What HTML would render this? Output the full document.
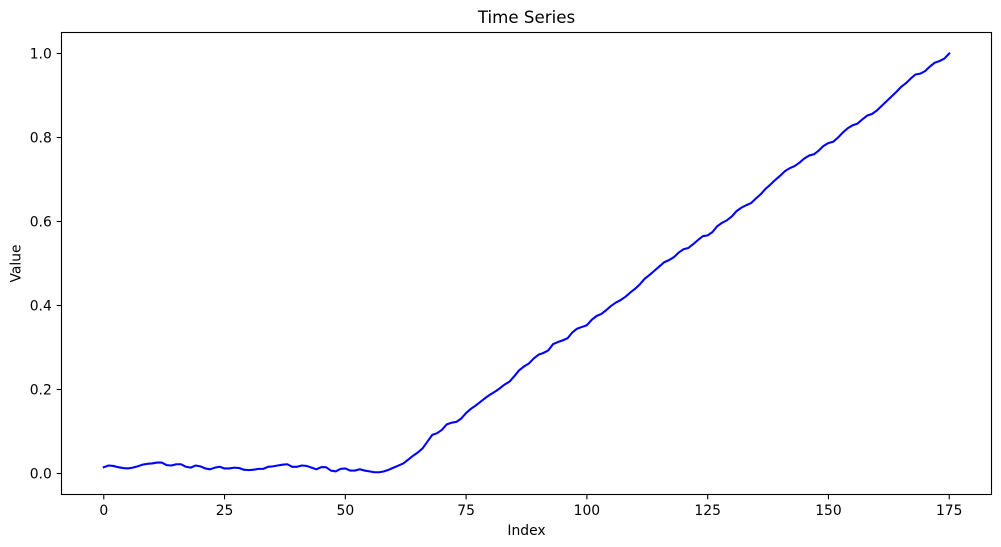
<!DOCTYPE html>
<html>
<head>
<meta charset="utf-8">
<title>Time Series</title>
<style>
html,body{margin:0;padding:0;background:#fff;width:1001px;height:547px;overflow:hidden}
svg{display:block}
text{font-family:"DejaVu Sans","Liberation Sans",sans-serif;fill:#000}
</style>
</head>
<body>
<svg id="chart" width="1001" height="547" viewBox="0 0 1001 547" xmlns="http://www.w3.org/2000/svg">
  <rect x="0" y="0" width="1001" height="547" fill="#fff"/>
  <text x="526.5" y="23" font-size="16.67" text-anchor="middle">Time Series</text>
  <text x="526.5" y="535" font-size="13.89" text-anchor="middle">Index</text>
  <text x="0" y="0" font-size="13.89" text-anchor="middle" transform="translate(20.5 263.5) rotate(-90)">Value</text>
  <g id="x-ticks"></g>
  <g id="y-ticks"></g>
  <path id="series-line" fill="none" stroke="#0000ff" stroke-width="2.08" stroke-linejoin="round" stroke-linecap="square"></path>
  <rect x="61.5" y="32.5" width="930" height="462" fill="none" stroke="#000" stroke-width="1.11"/>
</svg>
<script>
const seriesValues = [
0.015,0.019,0.018,0.015,0.013,0.012,0.014,0.017,0.021,0.023,
0.024,0.026,0.026,0.020,0.019,0.022,0.022,0.016,0.014,0.019,
0.017,0.012,0.010,0.014,0.016,0.012,0.012,0.014,0.013,0.009,
0.008,0.009,0.011,0.011,0.016,0.017,0.019,0.021,0.022,0.016,
0.016,0.019,0.018,0.014,0.010,0.015,0.015,0.007,0.005,0.011,
0.012,0.007,0.007,0.010,0.007,0.005,0.003,0.003,0.005,0.009,
0.014,0.019,0.024,0.033,0.042,0.050,0.060,0.076,0.092,0.096,
0.104,0.117,0.121,0.123,0.131,0.144,0.154,0.162,0.171,0.180,
0.188,0.195,0.203,0.212,0.219,0.232,0.246,0.255,0.262,0.274,
0.283,0.287,0.293,0.308,0.313,0.317,0.322,0.336,0.345,0.349,
0.353,0.366,0.375,0.380,0.389,0.399,0.407,0.413,0.421,0.431,
0.440,0.451,0.464,0.473,0.483,0.493,0.503,0.508,0.515,0.526,
0.534,0.537,0.546,0.556,0.565,0.567,0.575,0.589,0.597,0.603,
0.612,0.625,0.633,0.639,0.644,0.655,0.665,0.678,0.688,0.699,
0.709,0.720,0.727,0.732,0.740,0.750,0.757,0.760,0.769,0.780,
0.787,0.790,0.800,0.812,0.822,0.829,0.833,0.843,0.852,0.856,
0.864,0.875,0.886,0.897,0.908,0.920,0.929,0.940,0.950,0.952,
0.958,0.969,0.978,0.982,0.988,1.000
];
const xTickValues = [0,25,50,75,100,125,150,175];
const yTickValues = [0,0.2,0.4,0.6,0.8,1];
const yTickLabels = ["0.0","0.2","0.4","0.6","0.8","1.0"];

const NS = "http://www.w3.org/2000/svg";
const plot = {left:61.5, right:991.5, top:32.5, bottom:494.5};
const xDomain = [-8.75, 183.75];
const yDomain = [-0.05, 1.05];
function xScale(v){ return plot.left + (v - xDomain[0]) / (xDomain[1] - xDomain[0]) * (plot.right - plot.left); }
function yScale(v){ return plot.bottom - (v - yDomain[0]) / (yDomain[1] - yDomain[0]) * (plot.bottom - plot.top); }

const xGroup = document.getElementById("x-ticks");
xTickValues.forEach(function(t){
  const x = xScale(t);
  const tick = document.createElementNS(NS,"line");
  
  
  tick.setAttribute("x1",x); tick.setAttribute("x2",x);
  tick.setAttribute("y1",plot.bottom); tick.setAttribute("y2",plot.bottom+4.86);
  tick.setAttribute("stroke","#000"); tick.setAttribute("stroke-width","1.11");
  xGroup.appendChild(tick);
  const label = document.createElementNS(NS,"text");
  
  
  label.setAttribute("x",x); label.setAttribute("y",515);
  label.setAttribute("font-size","13.89"); label.setAttribute("text-anchor","middle");
  label.textContent = String(t);
  xGroup.appendChild(label);
});

const yGroup = document.getElementById("y-ticks");
yTickValues.forEach(function(t,i){
  const y = yScale(t);
  const tick = document.createElementNS(NS,"line");
  
  
  tick.setAttribute("x1",plot.left-4.86); tick.setAttribute("x2",plot.left);
  tick.setAttribute("y1",y); tick.setAttribute("y2",y);
  tick.setAttribute("stroke","#000"); tick.setAttribute("stroke-width","1.11");
  yGroup.appendChild(tick);
  const label = document.createElementNS(NS,"text");
  
  
  label.setAttribute("x",plot.left-9.7); label.setAttribute("y",y+5);
  label.setAttribute("font-size","13.89"); label.setAttribute("text-anchor","end");
  label.textContent = yTickLabels[i];
  yGroup.appendChild(label);
});

document.getElementById("series-line").setAttribute("d",
  seriesValues.map(function(v,i){ return (i?"L":"M") + xScale(i).toFixed(2) + " " + yScale(v).toFixed(2); }).join(" "));
</script>
</body>
</html>
